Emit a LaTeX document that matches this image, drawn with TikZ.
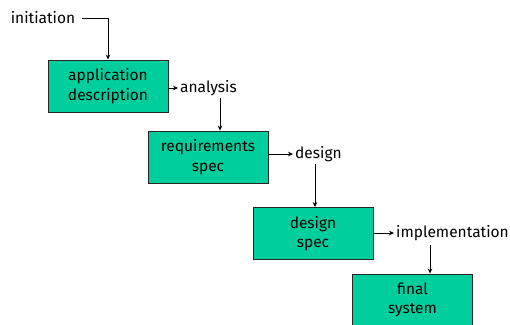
\documentclass[tikz,border=0pt]{standalone}
\usepackage{fontspec}
\setmainfont{Fira Sans}
\usetikzlibrary{arrows.meta}
\definecolor{teal1}{RGB}{0,206,156}
\begin{document}
\begin{tikzpicture}[x=1pt,y=-1pt,
  font=\fontsize{15.5}{18}\selectfont,
  box/.style={draw=black!85,line width=0.9pt,fill=teal1,minimum width=120pt,minimum height=52pt,inner sep=2pt,align=center,font=\fontsize{15.5}{19.5}\selectfont},
  lbl/.style={inner sep=2pt},
  arr/.style={line width=0.8pt,-{Stealth[length=5pt,width=4.5pt]}}]
\clip (0,0) rectangle (510,324);
\useasboundingbox (0,0) rectangle (510,324);
\node[lbl] (init) at (43,18) {initiation};
\node[box] (b1) at (108,86) {application\\description};
\node[lbl,anchor=west] (an) at (178,88) {analysis};
\node[box] (b2) at (208,157) {requirements\\spec};
\node[lbl,anchor=west] (de) at (293,154) {design};
\node[box] (b3) at (313,233.5) {design\\spec};
\node[lbl,anchor=west] (im) at (394,233) {implementation};
\node[box] (b4) at (412.5,300) {final\\system};
\coordinate (a1) at (220,98);
\coordinate (d1) at (315,164);
\coordinate (i1) at (430,245);
\draw[arr] ([xshift=5pt]init.east) -| (b1.north);
\draw[arr] (b1.east |- an.west) -- (an.west);
\draw[arr] (a1) -- (a1 |- b2.north);
\draw[arr] (b2.east |- de.west) -- (de.west);
\draw[arr] (d1) -- (d1 |- b3.north);
\draw[arr] (b3.east |- im.west) -- (im.west);
\draw[arr] (i1) -- (i1 |- b4.north);
\end{tikzpicture}
\end{document}
